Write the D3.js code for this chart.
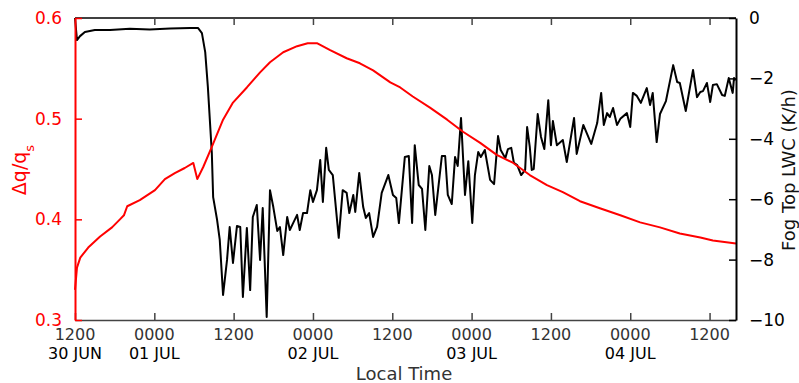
<!DOCTYPE html>
<html>
<head>
<meta charset="utf-8">
<script src="https://cdn.jsdelivr.net/npm/d3@7"></script>
<style>
  body { margin: 0; background: #fff; }
  text { font-family: "DejaVu Sans", sans-serif; }
</style>
</head>
<body>
<div id="chart"></div>
<script>
// hours since 30 JUN 1200 local time
const tickHours = [0, 12, 24, 36, 48, 60, 72, 84, 96];
const timeLabels = ['1200', '0000', '1200', '0000', '1200', '0000', '1200', '0000', '1200'];
const dateLabels = ['30 JUN', '01 JUL', '', '02 JUL', '', '03 JUL', '', '04 JUL', ''];

// delta q / q_s (left axis)
const dqHours = [0, 0.3, 0.8, 2, 3.8, 5.6, 6.8, 7.4, 7.9, 9.8, 12.1, 13.6, 15.1, 16.6, 17.9, 18.5,
  19.4, 20.7, 22.4, 23.9, 26, 28, 29.5, 31.5, 33.6, 35.2, 36.6, 38.6, 41.1, 43.1, 45.1, 47.7,
  49.2, 51.1, 53.7, 56.3, 58.7, 61.3, 63.8, 66.3, 68.8, 71.4, 73.8, 76.4, 79.4, 82.5, 85.5,
  88.5, 91.5, 94.6, 96.5, 100];
const dqValues = [0.330, 0.352, 0.362, 0.372, 0.383, 0.392, 0.400, 0.404, 0.413, 0.419, 0.429,
  0.440, 0.446, 0.451, 0.456, 0.440, 0.452, 0.472, 0.499, 0.516, 0.531, 0.546, 0.556, 0.566,
  0.572, 0.575, 0.575, 0.568, 0.560, 0.555, 0.548, 0.536, 0.531, 0.522, 0.511, 0.499, 0.487,
  0.476, 0.464, 0.456, 0.444, 0.434, 0.427, 0.418, 0.411, 0.404, 0.397, 0.392, 0.386, 0.382,
  0.379, 0.376];

// fog top LWC tendency, K/h (right axis)
const lwcHours = [0, 0.3, 0.76, 1.5, 3, 5.3, 8.3, 11.3, 14.4, 17.4, 18.6, 19.2, 19.7, 20.1, 20.7,
  20.9, 21.5, 21.9, 22.4, 23, 23.4, 23.9, 24.5, 25, 25.4, 26, 26.5, 26.9, 27.5, 28, 28.4, 29,
  29.5, 30, 30.6, 31, 31.5, 32.1, 32.5, 33, 33.6, 34, 34.5, 35.1, 35.6, 36, 36.6, 37.1, 37.5,
  38, 38.4, 39, 39.9, 40.5, 41.1, 41.5, 42.1, 42.4, 43, 43.6, 44, 44.5, 45.1, 45.7, 46.4, 47.4,
  48.1, 48.6, 49, 49.9, 50.5, 51, 51.4, 52, 52.5, 53, 53.6, 54, 54.5, 55.5, 56, 56.4, 57, 57.5,
  57.9, 58.4, 59, 59.5, 60.1, 60.5, 61, 61.4, 62, 62.8, 63.4, 64, 64.4, 65.1, 65.5, 66, 66.4,
  66.9, 67.5, 68.1, 68.4, 68.8, 69.1, 69.4, 70, 70.5, 71, 71.6, 72, 72.3, 72.9, 73.8, 74.4,
  75.5, 75.9, 76.9, 78.1, 79, 79.6, 80, 80.5, 80.9, 81.4, 82, 82.5, 83.5, 84, 84.4, 85, 85.6,
  86.5, 87, 87.4, 88, 88.5, 89.4, 90.5, 91.1, 91.5, 92.4, 93.5, 94.1, 94.6, 95, 95.6, 96.1,
  96.5, 97.1, 97.9, 98.3, 98.9, 99.5, 99.7, 100];
const lwcValues = [0, -0.73, -0.60, -0.46, -0.40, -0.40, -0.36, -0.38, -0.35, -0.33, -0.33, -0.50,
  -1.13, -2.28, -4.47, -5.93, -6.69, -7.35, -9.17, -8.01, -6.92, -8.11, -6.89, -6.92, -9.24,
  -6.95, -9.01, -6.59, -6.19, -8.01, -6.29, -9.90, -5.70, -6.26, -7.05, -6.92, -7.85, -6.59,
  -7.02, -6.79, -6.52, -7.02, -6.46, -6.46, -5.70, -6.09, -5.70, -4.70, -6.09, -4.30, -5.03,
  -5.20, -7.28, -5.70, -5.79, -6.46, -5.86, -6.42, -5.13, -6.26, -6.62, -6.46, -7.25, -6.92,
  -5.79, -5.20, -5.86, -5.96, -6.79, -4.60, -4.57, -6.79, -4.21, -5.53, -5.66, -7.02, -4.90,
  -5.20, -6.52, -4.57, -4.57, -5.86, -6.16, -4.60, -4.90, -3.31, -5.86, -4.74, -6.79, -5.20,
  -4.44, -4.60, -4.37, -5.36, -5.50, -3.91, -4.37, -4.64, -4.34, -4.30, -4.80, -4.87, -5.20,
  -5.03, -3.61, -4.27, -5.03, -5.00, -3.18, -3.94, -4.34, -2.72, -4.21, -3.41, -4.21, -4.04,
  -4.77, -3.31, -4.50, -3.54, -4.17, -3.48, -2.48, -3.54, -3.15, -3.28, -2.98, -3.54, -3.34,
  -3.15, -3.61, -2.48, -2.58, -2.81, -2.32, -2.88, -2.48, -4.11, -3.18, -2.75, -1.56, -2.12,
  -2.15, -3.08, -1.72, -2.62, -2.45, -2.42, -2.15, -2.78, -2.22, -2.19, -2.55, -2.58, -1.99,
  -2.48, -1.99, -2.05];

const leftTicks = [0.3, 0.4, 0.5, 0.6];
const rightTicks = [0, -2, -4, -6, -8, -10];

const width = 799, height = 383;
const margin = {top: 18, right: 63, bottom: 63, left: 75};

const svg = d3.select('#chart').append('svg')
    .attr('width', width)
    .attr('height', height);

const x = d3.scaleLinear().domain([0, 100]).range([margin.left, width - margin.right]);
const yL = d3.scaleLinear().domain([0.3, 0.6]).range([height - margin.bottom, margin.top]);
const yR = d3.scaleLinear().domain([-10, 0]).range([height - margin.bottom, margin.top]);

// lines
const dqLine = d3.line()
    .x(function(d, i) { return x(dqHours[i]); })
    .y(function(d) { return yL(d); });
const lwcLine = d3.line()
    .x(function(d, i) { return x(lwcHours[i]); })
    .y(function(d) { return yR(d); });

svg.append('path')
    .attr('d', lwcLine(lwcValues))
    .attr('fill', 'none')
    .attr('stroke', '#000')
    .attr('stroke-width', 2)
    .attr('stroke-linejoin', 'round');

svg.append('path')
    .attr('d', dqLine(dqValues))
    .attr('fill', 'none')
    .attr('stroke', '#ff0000')
    .attr('stroke-width', 2)
    .attr('stroke-linejoin', 'round');

// frame
svg.append('line')
    .attr('x1', x(0)).attr('x2', x(100))
    .attr('y1', margin.top).attr('y2', margin.top)
    .attr('stroke', '#000').attr('stroke-width', 1.5);

// bottom axis
const xAxis = svg.append('g')
    .attr('transform', `translate(0,${height - margin.bottom})`)
    .call(d3.axisBottom(x).tickValues(tickHours).tickSize(-7).tickSizeOuter(0).tickFormat(''));
xAxis.select('.domain').attr('stroke', '#444').attr('stroke-width', 1.5);
xAxis.selectAll('.tick line').attr('stroke', '#444').attr('stroke-width', 1.5);

// top ticks
svg.append('g')
    .attr('transform', `translate(0,${margin.top})`)
    .call(d3.axisTop(x).tickValues(tickHours.slice(1)).tickSize(-7).tickSizeOuter(0).tickFormat(''))
    .call(g => g.select('.domain').remove())
    .selectAll('.tick line').attr('stroke', '#444').attr('stroke-width', 1.5);

const xl = svg.append('g');
xl.selectAll('text.time')
    .data(tickHours)
    .join('text')
    .attr('class', 'time')
    .attr('x', d => x(d))
    .attr('y', 340)
    .attr('text-anchor', 'middle')
    .attr('font-size', 16)
    .attr('fill', '#333')
    .text((d, i) => timeLabels[i]);
xl.selectAll('text.date')
    .data(tickHours)
    .join('text')
    .attr('class', 'date')
    .attr('x', d => x(d))
    .attr('y', 359)
    .attr('text-anchor', 'middle')
    .attr('font-size', 16)
    .attr('fill', '#000')
    .text((d, i) => dateLabels[i]);

// left axis
const leftAxis = svg.append('g')
    .attr('transform', `translate(${margin.left},0)`)
    .call(d3.axisLeft(yL).tickValues(leftTicks).tickSize(-7).tickSizeOuter(0).tickPadding(13)
        .tickFormat(d3.format('.1f')));
leftAxis.select('.domain').attr('stroke', '#ff0000').attr('stroke-width', 2);
leftAxis.selectAll('.tick line').attr('stroke', '#ff0000').attr('stroke-width', 1.5);
leftAxis.selectAll('.tick text').attr('fill', '#ff0000').attr('font-size', 17)
    .attr('font-family', '"DejaVu Sans", sans-serif');

// right axis
const rightAxis = svg.append('g')
    .attr('transform', `translate(${width - margin.right},0)`)
    .call(d3.axisRight(yR).tickValues(rightTicks).tickSize(-7).tickSizeOuter(0).tickPadding(13)
        .tickFormat(d => d === 0 ? '0' : '\u2212' + Math.abs(d)));
rightAxis.select('.domain').attr('stroke', '#000').attr('stroke-width', 2);
rightAxis.selectAll('.tick line').attr('stroke', '#000').attr('stroke-width', 1.5);
rightAxis.selectAll('.tick text').attr('fill', '#000').attr('font-size', 17)
    .attr('font-family', '"DejaVu Sans", sans-serif');

// titles
svg.append('text')
    .attr('x', 404)
    .attr('y', 380)
    .attr('text-anchor', 'middle')
    .attr('font-size', 18)
    .attr('fill', '#333')
    .text('Local Time');

const lt = svg.append('text')
    .attr('transform', 'translate(26,170) rotate(-90)')
    .attr('text-anchor', 'middle')
    .attr('font-size', 19)
    .attr('fill', '#ff0000');
lt.append('tspan').text('\u0394q/q');
lt.append('tspan').attr('baseline-shift', 'sub').attr('font-size', 13).text('s');

svg.append('text')
    .attr('transform', 'translate(795,170) rotate(-90)')
    .attr('text-anchor', 'middle')
    .attr('font-size', 18)
    .attr('fill', '#111')
    .text('Fog Top LWC (K/h)');
</script>
</body>
</html>
